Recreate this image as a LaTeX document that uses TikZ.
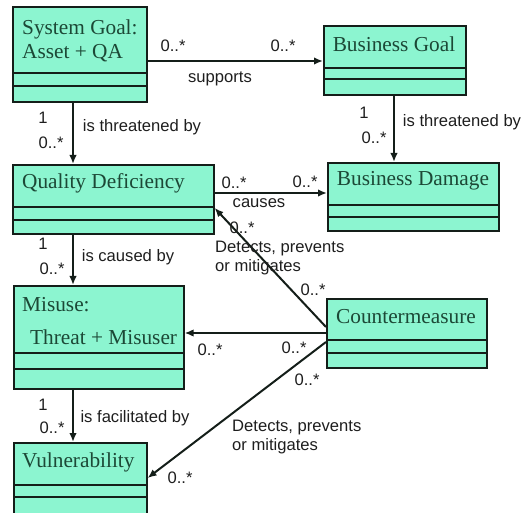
\documentclass[tikz,border=0pt]{standalone}
\usepackage{fontspec}
\setmainfont{Liberation Serif}
\setsansfont{Liberation Sans}
\usetikzlibrary{arrows.meta}
\definecolor{boxfill}{RGB}{140,245,208}
\definecolor{boxtext}{RGB}{28,72,54}
\definecolor{edge}{RGB}{20,30,25}
\definecolor{lbl}{RGB}{30,30,30}
\tikzset{
  cls/.style={draw=edge, fill=boxfill, line width=1.6pt, rectangle, inner sep=0pt, anchor=north west},
  cline/.style={draw=edge, line width=1.6pt},
  ctext/.style={text=boxtext, font=\fontsize{21.3}{24.5}\selectfont, inner sep=0pt},
  conn/.style={draw=edge, line width=2pt, -{Latex[length=9pt,width=7.5pt]}},
  lab/.style={text=lbl, font=\sffamily\fontsize{16.6}{19.5}\selectfont, inner sep=0pt},
}
\begin{document}
\begin{tikzpicture}[x=1pt,y=-1pt]
\useasboundingbox (0,0) rectangle (525,513);
% boxes
\node[cls, minimum width=134pt, minimum height=95pt] (sg) at (12,6) {};
\draw[cline] ([yshift=-67pt]sg.north west) -- ([yshift=-67pt]sg.north east);
\draw[cline] ([yshift=-80pt]sg.north west) -- ([yshift=-80pt]sg.north east);
\node[ctext, align=left, anchor=west] (sgt) at (22,41) {System Goal:\\Asset + QA};

\node[cls, minimum width=142pt, minimum height=69pt] (bg) at (323,25) {};
\draw[cline] ([yshift=-43pt]bg.north west) -- ([yshift=-43pt]bg.north east);
\draw[cline] ([yshift=-54pt]bg.north west) -- ([yshift=-54pt]bg.north east);
\node[ctext] (bgt) at (394,44) {Business Goal};

\node[cls, minimum width=201pt, minimum height=69pt] (qd) at (12,164) {};
\draw[cline] ([yshift=-43pt]qd.north west) -- ([yshift=-43pt]qd.north east);
\draw[cline] ([yshift=-56pt]qd.north west) -- ([yshift=-56pt]qd.north east);
\node[ctext, anchor=west] (qdt) at (22,183) {Quality Deficiency};

\node[cls, minimum width=171pt, minimum height=68pt] (bd) at (327,162) {};
\draw[cline] ([yshift=-43pt]bd.north west) -- ([yshift=-43pt]bd.north east);
\draw[cline] ([yshift=-55pt]bd.north west) -- ([yshift=-55pt]bd.north east);
\node[ctext] (bdt) at (413,181) {Business Damage};

\node[cls, minimum width=170pt, minimum height=103pt] (mu) at (13,285) {};
\draw[cline] ([yshift=-68pt]mu.north west) -- ([yshift=-68pt]mu.north east);
\draw[cline] ([yshift=-84pt]mu.north west) -- ([yshift=-84pt]mu.north east);
\node[ctext, anchor=west] (mut1) at (22,305) {Misuse:};
\node[ctext, anchor=west] (mut2) at (30,337) {Threat + Misuser};

\node[cls, minimum width=160pt, minimum height=69pt] (cm) at (326,298) {};
\draw[cline] ([yshift=-42pt]cm.north west) -- ([yshift=-42pt]cm.north east);
\draw[cline] ([yshift=-55pt]cm.north west) -- ([yshift=-55pt]cm.north east);
\node[ctext] (cmt) at (406,317) {Countermeasure};

\node[cls, minimum width=133pt, minimum height=75pt] (vu) at (13,442) {};
\draw[cline] ([yshift=-43pt]vu.north west) -- ([yshift=-43pt]vu.north east);
\draw[cline] ([yshift=-55pt]vu.north west) -- ([yshift=-55pt]vu.north east);
\node[ctext, anchor=west] (vut) at (22,462) {Vulnerability};

% connectors
\draw[conn] ([yshift=-55pt]sg.north east) -- ([yshift=-36pt]bg.north west);
\draw[conn] ([xshift=61pt]sg.south west) -- ([xshift=61pt]qd.north west);
\draw[conn] ([xshift=71pt]bg.south west) -- ([xshift=67pt]bd.north west);
\draw[conn] ([yshift=-29pt]qd.north east) -- ([yshift=-31pt]bd.north west);
\draw[conn] ([xshift=61pt]qd.south west) -- ([xshift=60pt]mu.north west);
\draw[conn] ([xshift=60pt]mu.south west) -- ([xshift=60pt]vu.north west);
\draw[conn] ([yshift=-29pt]cm.north west) -- ([yshift=-44pt]qd.north east);
\draw[conn] ([yshift=-35pt]cm.north west) -- ([yshift=-48pt]mu.north east);
\draw[conn] ([yshift=-44pt]cm.north west) -- ([yshift=-36pt]vu.north east);

% labels
\node[lab] (l1) at (173,46) {0..*};
\node[lab] (l2) at (283,46) {0..*};
\node[lab] (l3) at (220,79) {supports};
\node[lab] (l4) at (43,118) {1};
\node[lab] (l5) at (51,143) {0..*};
\node[lab] (l6) at (142,127) {is threatened by};
\node[lab] (l7) at (364,113) {1};
\node[lab] (l8) at (374,138) {0..*};
\node[lab] (l9) at (462,122) {is threatened by};
\node[lab] (l10) at (234,183) {0..*};
\node[lab] (l11) at (305,182) {0..*};
\node[lab] (l12) at (259,203) {causes};
\node[lab] (l13) at (242,228) {0..*};
\node[lab, align=left, anchor=west] (l14) at (215,258) {Detects, prevents\\or mitigates};
\node[lab] (l15) at (313,290) {0..*};
\node[lab] (l16) at (43,244) {1};
\node[lab] (l17) at (52,269) {0..*};
\node[lab] (l18) at (128,257) {is caused by};
\node[lab] (l19) at (210,350) {0..*};
\node[lab] (l20) at (294,348) {0..*};
\node[lab] (l21) at (307,380) {0..*};
\node[lab] (l22) at (43,405) {1};
\node[lab] (l23) at (52,428) {0..*};
\node[lab] (l24) at (135,418) {is facilitated by};
\node[lab, align=left, anchor=west] (l25) at (232,437) {Detects, prevents\\or mitigates};
\node[lab] (l26) at (180,478) {0..*};
\end{tikzpicture}
\end{document}
